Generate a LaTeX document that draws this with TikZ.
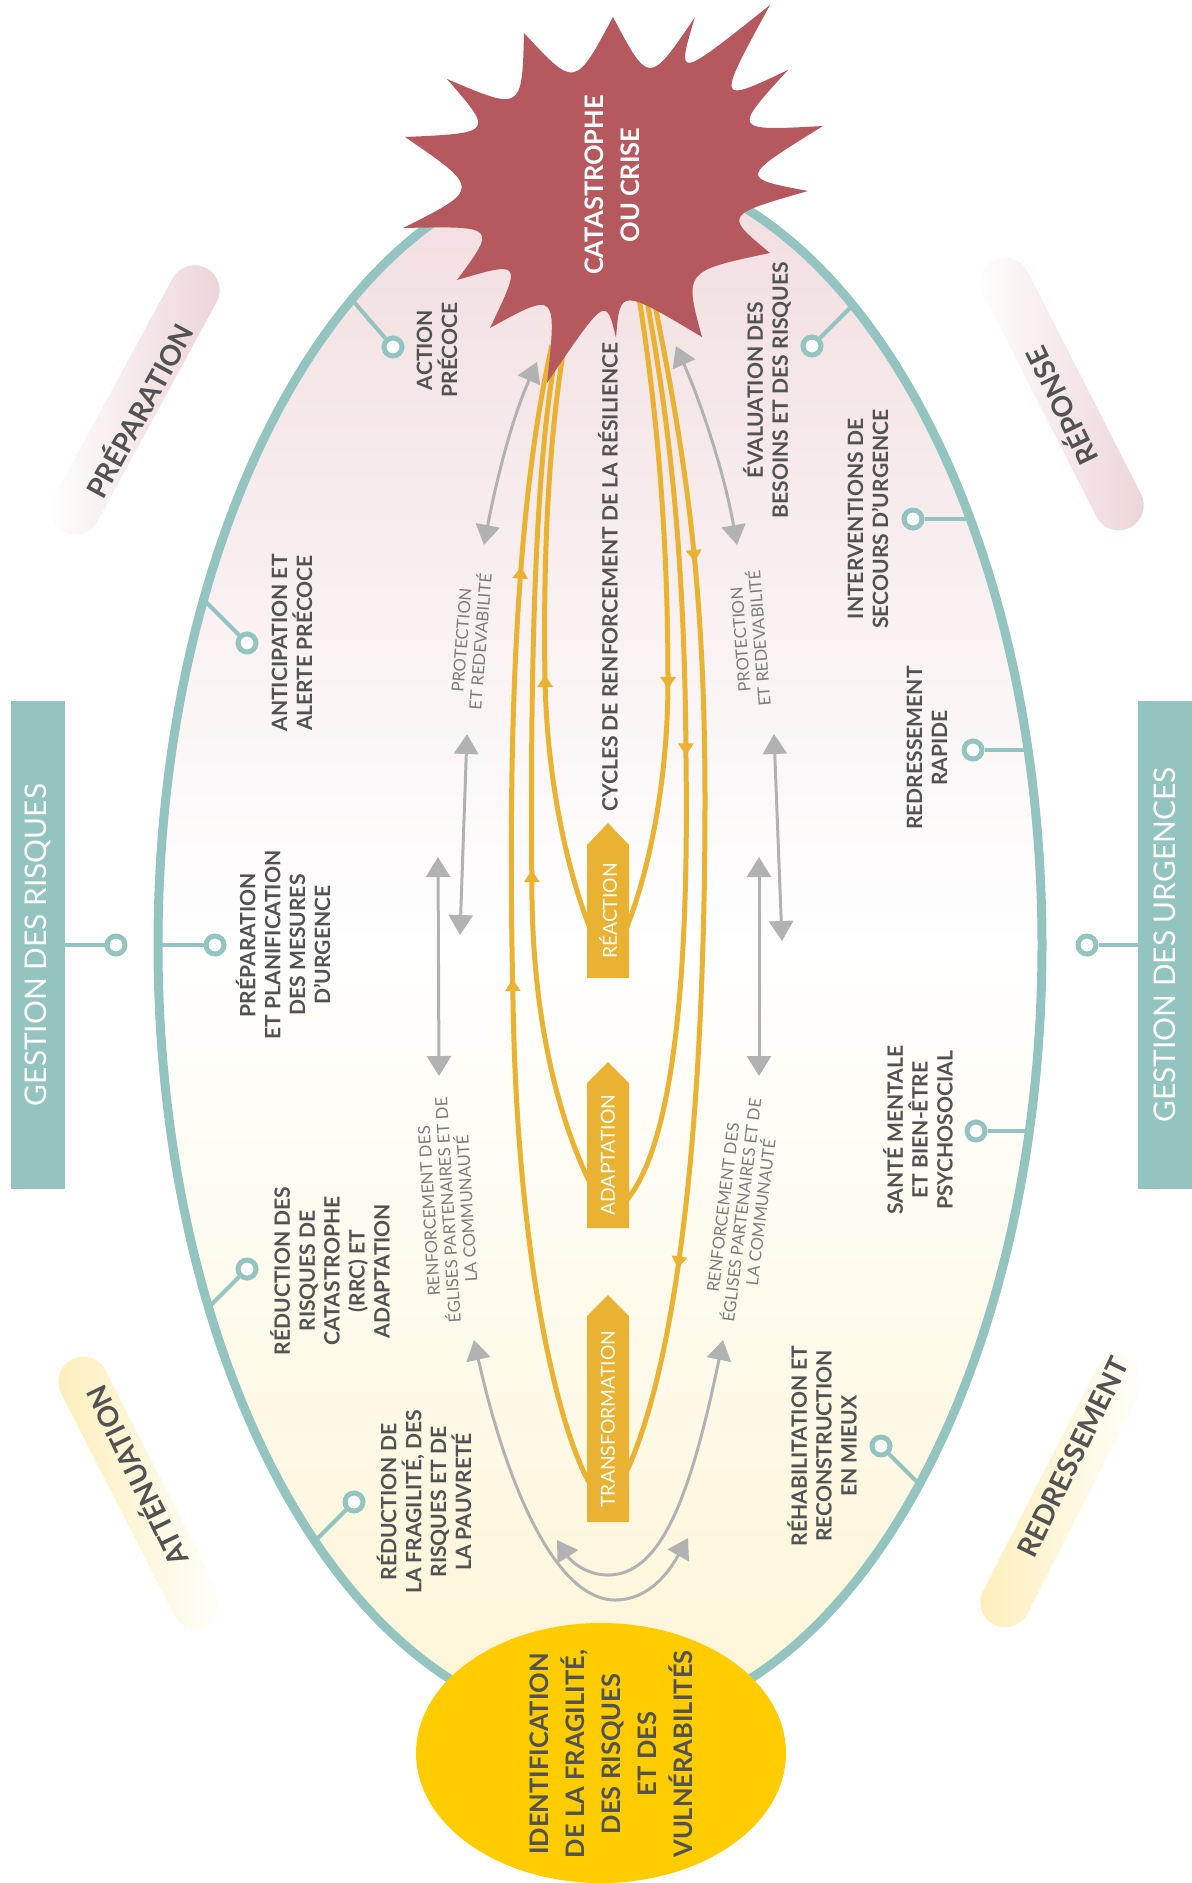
\documentclass[tikz,border=0pt]{standalone}
\usepackage{fontspec}
\setmainfont{Lato}
\usetikzlibrary{arrows.meta,decorations.markings}

\definecolor{ringteal}{RGB}{148,196,192}
\definecolor{crisisred}{RGB}{181,89,94}
\definecolor{cyclegold}{RGB}{233,178,50}
\definecolor{arrowgray}{RGB}{178,178,178}
\definecolor{labelgray}{RGB}{82,82,82}
\definecolor{softgray}{RGB}{125,125,125}
\definecolor{identyellow}{RGB}{255,204,0}
\definecolor{bgpink}{RGB}{241,221,223}
\definecolor{bgyellow}{RGB}{253,245,214}
\definecolor{pillpink}{RGB}{236,211,214}
\definecolor{pillyellow}{RGB}{253,238,185}

\begin{document}
\begin{tikzpicture}[x=0.02cm, y=-0.02cm,
  itemtext/.style={text=labelgray, align=center, rotate=90, inner sep=0pt,
    font=\fontsize{12}{14.2}\selectfont\bfseries},
  softtext/.style={text=softgray, align=center, inner sep=0pt,
    font=\fontsize{9.5}{10.8}\selectfont},
  phase/.style={minimum width=6cm, minimum height=1cm, rounded corners=0.5cm, inner sep=0pt},
  phasetext/.style={text=labelgray, inner sep=0pt, font=\fontsize{16}{18}\selectfont\bfseries},
  gestion/.style={fill=ringteal, rotate=90, minimum width=9.76cm, minimum height=1.08cm,
    inner sep=0pt, text=white, font=\fontsize{17}{20}\selectfont},
  knob/.style={circle, draw=ringteal, fill=white, line width=0.1cm, minimum size=0.36cm, inner sep=0pt},
  stem/.style={ringteal, line width=0.08cm},
  twoway/.style={arrowgray, line width=0.06cm,
    {Triangle[length=0.4cm,width=0.48cm]}-{Triangle[length=0.4cm,width=0.48cm]}},
  loopline/.style={cyclegold, line width=0.1cm},
  tipat/.style={decoration={markings, mark=at position #1 with {\arrow{Triangle[length=0.24cm,width=0.3cm]}}}, decorate},
  cyclebox/.style={text=white, rotate=90, inner sep=0pt, font=\fontsize{11}{13}\selectfont}]

  \useasboundingbox (0,0) rectangle (1191,1883);

  % phase pills outside the ring
  \node[phase, rotate=61.5, left color=white, right color=pillpink] (prep-pill) at (135,400) {};
  \node[phasetext, rotate=61.5] (prep) at (138,410) {PRÉPARATION};
  \node[phase, rotate=117, left color=white, right color=pillpink] (rep-pill) at (1062,394) {};
  \node[phasetext, rotate=116] (rep) at (1060,407) {RÉPONSE};
  \node[phase, rotate=117, left color=pillyellow, right color=white] (att-pill) at (140,1493) {};
  \node[phasetext, rotate=116] (att) at (135,1477) {ATTÉNUATION};
  \node[phase, rotate=63, left color=pillyellow, right color=white] (red-pill) at (1062,1491) {};
  \node[phasetext, rotate=64] (red) at (1073,1457) {REDRESSEMENT};

  % side boxes
  \node[gestion] (risques) at (38,945) {GESTION DES RISQUES};
  \node[gestion] (urgences) at (1165,945) {GESTION DES URGENCES};
  \node[knob] (k-risques) at (116,945) {};
  \node[knob] (k-urgences) at (1087,945) {};
  \draw[stem] (risques) -- (k-risques);
  \draw[stem] (urgences) -- (k-urgences);

  % the ring
  \shade[top color=bgpink, bottom color=bgyellow, middle color=white] (600,945) ellipse (442 and 780);

  % knobs on the ring
  \node[knob] (k-action) at (393,347) {};
  \node[knob] (k-anticip) at (247,643) {};
  \node[knob] (k-planif) at (215,945) {};
  \node[knob] (k-rrc) at (247,1269) {};
  \node[knob] (k-fragil) at (354,1502) {};
  \node[knob] (k-evalu) at (812,346) {};
  \node[knob] (k-secours) at (913,519) {};
  \node[knob] (k-rapide) at (973,750) {};
  \node[knob] (k-sante) at (976,1131) {};
  \node[knob] (k-rehab) at (881,1446) {};
  \coordinate (e-action) at (353,301);
  \coordinate (e-anticip) at (204,600);
  \coordinate (e-planif) at (158,945);
  \coordinate (e-rrc) at (208,1308);
  \coordinate (e-fragil) at (315,1541);
  \coordinate (e-evalu) at (853,305);
  \coordinate (e-secours) at (970,519);
  \coordinate (e-rapide) at (1028,750);
  \coordinate (e-sante) at (1029,1131);
  \coordinate (e-rehab) at (919,1484);
  \foreach \n in {action,anticip,planif,rrc,fragil,evalu,secours,rapide,sante,rehab}
    \draw[stem] (k-\n) -- (e-\n);
  \draw[ringteal, line width=0.18cm] (600,945) ellipse (442 and 780);

  % labels
  \node[itemtext] (action) at (437,350) {ACTION\\PRÉCOCE};
  \node[itemtext] (anticip) at (292,643) {ANTICIPATION ET\\ALERTE PRÉCOCE};
  \node[itemtext] (planif) at (283,945) {PRÉPARATION\\ET PLANIFICATION\\DES MESURES\\D'URGENCE};
  \node[itemtext] (rrc) at (330,1271) {RÉDUCTION DES\\RISQUES DE\\CATASTROPHE\\(RRC) ET\\ADAPTATION};
  \node[itemtext] (fragil) at (424,1502) {RÉDUCTION DE\\LA FRAGILITÉ, DES\\RISQUES ET DE\\LA PAUVRETÉ};
  \node[itemtext] (evalu) at (767,390) {ÉVALUATION DES\\BESOINS ET DES RISQUES};
  \node[itemtext] (secours) at (868,519) {INTERVENTIONS DE\\SECOURS D'URGENCE};
  \node[itemtext] (rapide) at (927,748) {REDRESSEMENT\\RAPIDE};
  \node[itemtext] (sante) at (918,1130) {SANTÉ MENTALE\\ET BIEN-ÊTRE\\PSYCHOSOCIAL};
  \node[itemtext] (rehab) at (822,1446) {RÉHABILITATION ET\\RECONSTRUCTION\\EN MIEUX};
  \node[itemtext] (cycles) at (608,577) {CYCLES DE RENFORCEMENT DE LA RÉSILIENCE};
  \node[softtext, rotate=85.5] (prot-l) at (471,641) {PROTECTION\\ET REDEVABILITÉ};
  \node[softtext, rotate=94.5] (prot-r) at (750,639) {PROTECTION\\ET REDEVABILITÉ};
  \node[softtext, rotate=93.5] (renf-l) at (448,1210) {RENFORCEMENT DES\\ÉGLISES PARTENAIRES ET DE\\LA COMMUNAUTÉ};
  \node[softtext, rotate=83] (renf-r) at (742,1210) {RENFORCEMENT DES\\ÉGLISES PARTENAIRES ET DE\\LA COMMUNAUTÉ};

  % grey two-way arrows
  \coordinate (g1a) at (537,362); \coordinate (g1b) at (484,545);
  \coordinate (g2a) at (676,346); \coordinate (g2b) at (737,545);
  \coordinate (g3a) at (467,734); \coordinate (g3b) at (460,935);
  \coordinate (g4a) at (438,857); \coordinate (g4b) at (439,1076);
  \coordinate (g5a) at (774,734); \coordinate (g5b) at (782,941);
  \coordinate (g6a) at (759,857); \coordinate (g6b) at (759,1076);
  \coordinate (g7a) at (474,1340); \coordinate (g7b) at (688,1538);
  \coordinate (g8a) at (723,1340); \coordinate (g8b) at (557,1540);
  \draw[twoway] (g1a) .. controls (511,421) and (496,482) .. (g1b);
  \draw[twoway] (g2a) .. controls (704,410) and (725,477) .. (g2b);
  \draw[twoway] (g3a) -- (g3b);
  \draw[twoway] (g4a) -- (g4b);
  \draw[twoway] (g5a) -- (g5b);
  \draw[twoway] (g6a) -- (g6b);
  \draw[twoway] (g7a) .. controls (510,1500) and (560,1600) .. (615,1600)
    .. controls (650,1600) and (670,1570) .. (g7b);
  \draw[twoway] (g8a) .. controls (690,1500) and (660,1575) .. (608,1575)
    .. controls (585,1575) and (570,1560) .. (g8b);

  % resilience cycles (up on the left, down on the right)
  \draw[loopline, postaction={tipat=.46}, postaction={tipat=.81}]
    (608,1505) .. controls (575,1490) and (518,1310) .. (513,1000)
    .. controls (508,780) and (512,520) .. (552,345);
  \draw[loopline, postaction={tipat=.40}]
    (608,1215) .. controls (585,1180) and (535,1080) .. (532,900)
    .. controls (530,700) and (533,450) .. (560,335);
  \draw[loopline, postaction={tipat=.46}]
    (608,965) .. controls (585,930) and (548,820) .. (545,680)
    .. controls (543,560) and (548,430) .. (568,325);
  \draw[loopline, postaction={tipat=.23}, postaction={tipat=.80}]
    (650,280) .. controls (680,430) and (705,560) .. (705,800)
    .. controls (705,1100) and (680,1400) .. (608,1505);
  \draw[loopline, postaction={tipat=.50}]
    (643,280) .. controls (670,420) and (685,560) .. (686,760)
    .. controls (690,1050) and (660,1190) .. (608,1215);
  \draw[loopline, postaction={tipat=.59}]
    (636,280) .. controls (660,420) and (668,560) .. (668,680)
    .. controls (668,820) and (632,930) .. (608,965);

  % cycle boxes
  \fill[cyclegold] (587,978) -- (629,978) -- (629,845) -- (608,823) -- (587,845) -- cycle;
  \node[cyclebox] (reaction) at (608,911) {RÉACTION};
  \fill[cyclegold] (587,1228) -- (629,1228) -- (629,1083) -- (608,1062) -- (587,1083) -- cycle;
  \node[cyclebox] (adaptation) at (608,1155) {ADAPTATION};
  \fill[cyclegold] (587,1522) -- (629,1522) -- (629,1316) -- (608,1295) -- (587,1316) -- cycle;
  \node[cyclebox] (transformation) at (608,1419) {TRANSFORMATION};

  % crisis star
  \fill[crisisred] (524,33)
    foreach \vx/\vy/\tx/\ty in {575/88/613/17, 649/85/695/17, 676/80/770/5, 716/104/788/70,
      732/131/823/126, 739/178/808/191, 724/215/770/253, 684/271/702/337,
      620/288/616/338, 606/296/547/383, 557/291/490/328, 522/261/457/280,
      497/226/403/228, 481/189/405/137, 494/133/447/79, 522/111/524/33}
    { .. controls (\vx,\vy) and (\vx,\vy) .. (\tx,\ty) } -- cycle;
  \node[text=white, rotate=90, align=center, inner sep=0pt,
    font=\fontsize{14.5}{20.5}\selectfont\bfseries] (crisis) at (612,185) {CATASTROPHE\\OU CRISE};

  % identification
  \fill[identyellow] (601,1753) ellipse (185 and 130);
  \node[text=labelgray, rotate=90, align=center, inner sep=0pt,
    font=\fontsize{14.5}{20.5}\selectfont\bfseries] (ident) at (611,1754)
    {IDENTIFICATION\\DE LA FRAGILITÉ,\\DES RISQUES\\ET DES\\VULNÉRABILITÉS};
\end{tikzpicture}
\end{document}
